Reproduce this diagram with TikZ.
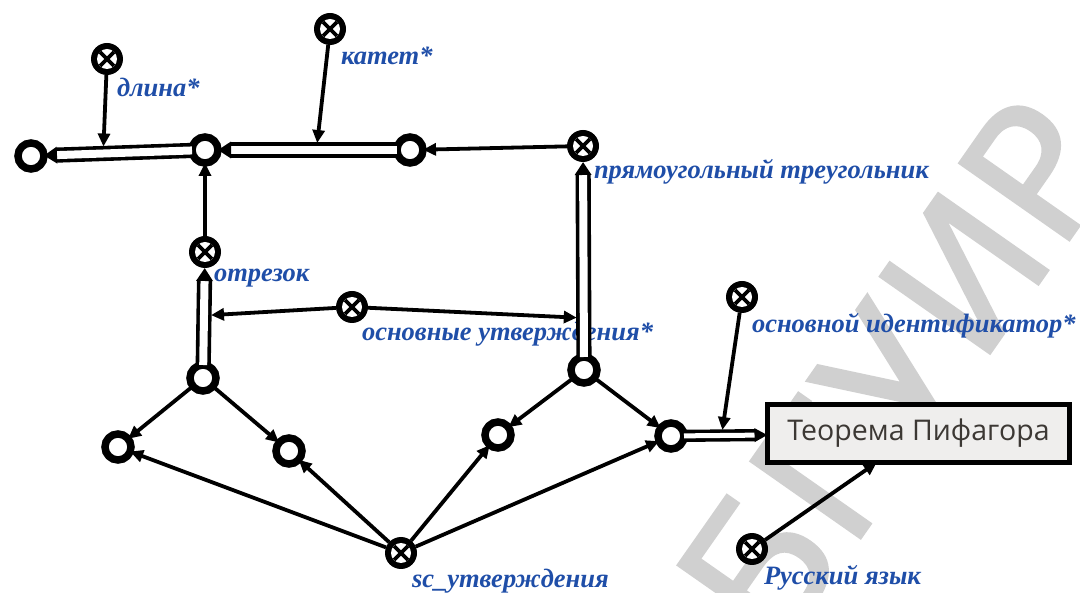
\documentclass[tikz,border=0pt]{standalone}
\usepackage{fontspec}
\usetikzlibrary{arrows.meta}
\newfontfamily\lblfont{Liberation Serif}
\newfontfamily\boxfont{Open Sans}
\newfontfamily\wmfont{DejaVu Sans}[FakeBold=1]
\definecolor{lblblue}{RGB}{31,78,168}
\definecolor{boxfill}{RGB}{239,238,237}
\definecolor{boxtext}{RGB}{60,56,52}
\definecolor{wmgray}{RGB}{208,208,208}
\begin{document}
\begin{tikzpicture}[x=1pt,y=-1pt,
  every node/.style={inner sep=0pt,outer sep=0pt},
  vnode/.style={circle,draw=black,line width=7.5pt,fill=white,minimum size=26pt},
  cnode/.style={circle,fill=black,minimum size=32pt,path picture={
     \fill[white] (path picture bounding box.center) circle[radius=10];
     \draw[black,line width=3.8pt]
       ([shift={(-7,-7)}]path picture bounding box.center) -- ([shift={(7,7)}]path picture bounding box.center)
       ([shift={(-7,7)}]path picture bounding box.center) -- ([shift={(7,-7)}]path picture bounding box.center);}},
  arr/.style={line width=3.8pt,-{Triangle[length=13pt,width=12pt]}},
  dbl/.style={line width=3.6pt,double=white,double distance=8pt,-{Triangle[length=13pt,width=16pt]}},
  dblsm/.style={line width=3.6pt,double=white,double distance=5pt,-{Triangle[length=13pt,width=13pt]}},
  lbl/.style={anchor=west,text=lblblue,font=\lblfont\bfseries\itshape\fontsize{26.5}{26.5}\selectfont},
  thmbox/.style={draw=black,line width=5pt,fill=boxfill,minimum width=302pt,minimum height=58pt,
     text=boxtext,font=\boxfont\fontsize{28.5}{28.5}\selectfont},
  wm/.style={text=wmgray,font=\wmfont\fontsize{185}{185}\selectfont}
]
\useasboundingbox (0,0) rectangle (1080,593);
\fill[white] (0,0) rectangle (1080,593);
% watermark
\node[wm,rotate=55] (wmark) at (895,372) {БГУИР};
% nodes
\node[vnode] (n0) at (31,156) {};
\node[vnode] (n1) at (205,150) {};
\node[vnode] (n2) at (410,150) {};
\node[cnode] (dl) at (107,59) {};
\node[cnode] (kat) at (330,29) {};
\node[cnode] (pt) at (583,146) {};
\node[cnode] (otr) at (205,252) {};
\node[cnode] (osn) at (352,307) {};
\node[vnode] (b1) at (203,378) {};
\node[vnode] (b2) at (584,370) {};
\node[vnode] (c1) at (118,447) {};
\node[vnode] (c2) at (289,451) {};
\node[vnode] (c3) at (498,435) {};
\node[vnode] (c4) at (671,436) {};
\node[cnode] (sc) at (401,553) {};
\node[cnode] (oid) at (742,297) {};
\node[cnode] (rus) at (752,549) {};
\node[thmbox] (thm) at (918.5,433.5) {Теорема Пифагора};
% labels
\node[lbl] (Ldl) at (117,87) {длина*};
\node[lbl] (Lkat) at (341,56) {катет*};
\node[lbl] (Lpt) at (594,172) {прямоугольный треугольник};
\node[lbl] (Lotr) at (214,278) {отрезок};
\node[lbl] (Losn) at (362,334) {основные утверждения*};
\node[lbl] (Loid) at (752,326) {основной идентификатор*};
\node[lbl] (Lsc) at (412,581) {sc\_утверждения};
\node[lbl] (Lrus) at (764,578) {Русский язык};
% connectors
\draw[dbl] (n2) -- coordinate[pos=0.45] (m1) (n1);
\draw[dbl] (n1) -- coordinate[pos=0.6] (m2) (n0);
\draw[arr,shorten >=7pt] (kat) -- (m1);
\draw[arr,shorten >=7pt] (dl) -- (m2);
\draw[arr] (pt) -- (n2);
\draw[arr] (otr) -- (n1);
\draw[dbl] (b1) -- coordinate[pos=0.51] (m3) (otr);
\draw[dbl] (b2) -- coordinate[pos=0.2] (m4) (pt);
\draw[arr,shorten >=7pt] (osn) -- (m3);
\draw[arr,shorten >=7pt] (osn) -- (m4);
\draw[arr] (b1) -- (c1);
\draw[arr] (b1) -- (c2);
\draw[arr] (b2) -- (c3);
\draw[arr] (b2) -- (c4);
\draw[arr] (sc) -- (c1);
\draw[arr] (sc) -- (c2);
\draw[arr] (sc) -- (c3);
\draw[arr] (sc) -- (c4);
\draw[dblsm] (c4) -- coordinate[pos=0.45] (m5) (thm);
\draw[arr,shorten >=5.5pt] (oid) -- (m5);
\draw[arr] (rus) -- (thm);
\end{tikzpicture}
\end{document}
